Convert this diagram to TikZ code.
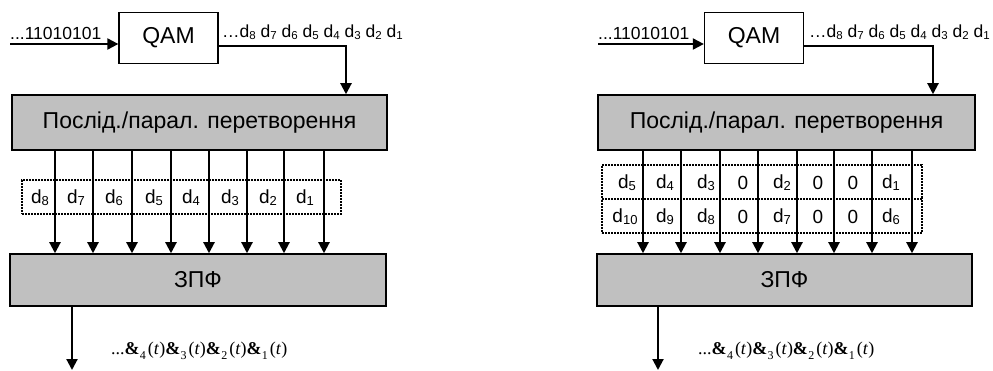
\documentclass[tikz,border=0pt]{standalone}
\usepackage{fontspec}
\setmainfont{Liberation Sans}
\newfontfamily\timesfont{Liberation Serif}
\usetikzlibrary{arrows.meta}

\definecolor{boxgray}{RGB}{192,192,192}

% d with a small lowered index
\newcommand\dsub[1]{d\raisebox{-1.5pt}{\fontsize{11.5}{11.5}\selectfont #1}}
\newcommand\dbig[1]{d\raisebox{-2pt}{\fontsize{13}{13}\selectfont #1}}
% one term of the output signal: dotted s, index, (t)
\newcommand\sterm[1]{\textbf{\&}\kern0.3pt\raisebox{-5pt}{\fontsize{12}{12}\selectfont #1}\kern2pt(\textit{t})}

\tikzset{
  arr/.style={line width=2.1pt, -{Triangle[length=11pt,width=11pt]}},
  graybox/.style={draw, line width=1.5pt, fill=boxgray, inner sep=0pt,
    font=\fontsize{23}{26}\selectfont},
  qambox/.style={draw, line width=1.3pt, minimum width=99pt, minimum height=51pt,
    inner sep=0pt, font=\fontsize{23}{26}\selectfont},
  dotbox/.style={draw, line width=1.6pt, dash pattern=on 1.6pt off 1.4pt, inner sep=0pt},
  lbl/.style={font=\fontsize{17.5}{20}\selectfont, inner sep=0pt},
  cell/.style={font=\fontsize{19}{22}\selectfont, inner sep=0pt},
  outlbl/.style={font=\timesfont\fontsize{18}{20}\selectfont, inner sep=0pt, anchor=base west},
}

\begin{document}
\begin{tikzpicture}[x=1pt, y=-1pt]
\useasboundingbox (0,0) rectangle (993,371);

% ---------------- left scheme ----------------
\node[qambox] (qamA) at (168.5,38) {QAM};
\coordinate (inA) at (10,44);
\node[lbl, anchor=base west] (bitsA) at (10,40) {...11010101};
\draw[arr] (inA) -- (inA -| qamA.west);
\node[lbl, anchor=base west] (symA) at (222,38)
  {…\dsub8 \dsub7 \dsub6 \dsub5 \dsub4 \dsub3 \dsub2 \dsub1};
\node[graybox, minimum width=375pt, minimum height=55pt] (spA) at (199.5,122.5)
  {Послід./парал. перетворення};
\coordinate (turnA) at (346,46);
\draw[arr] (qamA.east |- turnA) -- (turnA) -- (turnA |- spA.north);

\node[graybox, minimum width=376pt, minimum height=52pt] (fA) at (198,280) {ЗПФ};

\node[dotbox, minimum width=319pt, minimum height=34pt] (rowA) at (181.5,197) {};
\foreach \x [count=\i] in {55,93,132,171,209,247,284,324}
  \coordinate (cA\i) at (\x,0);
\foreach \i in {1,...,8}
  \draw[arr] (cA\i |- spA.south) -- (cA\i |- fA.north);
\foreach \x/\t [count=\i] in {40/8,76/7,114/6,154/5,191/4,230/3,268/2,305/1}
  \node[cell] (lA\i) at (\x,198) {\dbig\t};

\coordinate (outA) at (72,370);
\draw[arr] (outA |- fA.south) -- (outA);
\node[outlbl] (sigA) at (111,354)
  {...\sterm4\sterm3\sterm2\sterm1};

% ---------------- right scheme ----------------
\node[qambox] (qamB) at (754,38) {QAM};
\coordinate (inB) at (598,44);
\node[lbl, anchor=base west] (bitsB) at (598,40) {...11010101};
\draw[arr] (inB) -- (inB -| qamB.west);
\node[lbl, anchor=base west] (symB) at (809,38)
  {…\dsub8 \dsub7 \dsub6 \dsub5 \dsub4 \dsub3 \dsub2 \dsub1};
\node[graybox, minimum width=377pt, minimum height=55pt] (spB) at (786.5,122.5)
  {Послід./парал. перетворення};
\coordinate (turnB) at (933,46);
\draw[arr] (qamB.east |- turnB) -- (turnB) -- (turnB |- spB.north);

\node[graybox, minimum width=375pt, minimum height=52pt] (fB) at (784.5,280) {ЗПФ};

\node[dotbox, minimum width=320pt, minimum height=34pt] (row1B) at (762,182) {};
\node[dotbox, minimum width=320pt, minimum height=34pt] (row2B) at (762,216) {};
\foreach \x [count=\i] in {643,681,720,758,797,834,872,912}
  \coordinate (cB\i) at (\x,0);
\foreach \i in {1,...,8}
  \draw[arr] (cB\i |- spB.south) -- (cB\i |- fB.north);
\foreach \x/\t [count=\i] in {627/\dbig5,665/\dbig4,706/\dbig3,743/0,782/\dbig2,818/0,853/0,891/\dbig1}
  \node[cell] (uB\i) at (\x,183) {\t};
\foreach \x/\t [count=\i] in {625/\dbig{10},665/\dbig9,706/\dbig8,743/0,782/\dbig7,818/0,853/0,891/\dbig6}
  \node[cell] (vB\i) at (\x,217) {\t};

\coordinate (outB) at (658,370);
\draw[arr] (outB |- fB.south) -- (outB);
\node[outlbl] (sigB) at (698,354)
  {...\sterm4\sterm3\sterm2\sterm1};
\end{tikzpicture}
\end{document}
